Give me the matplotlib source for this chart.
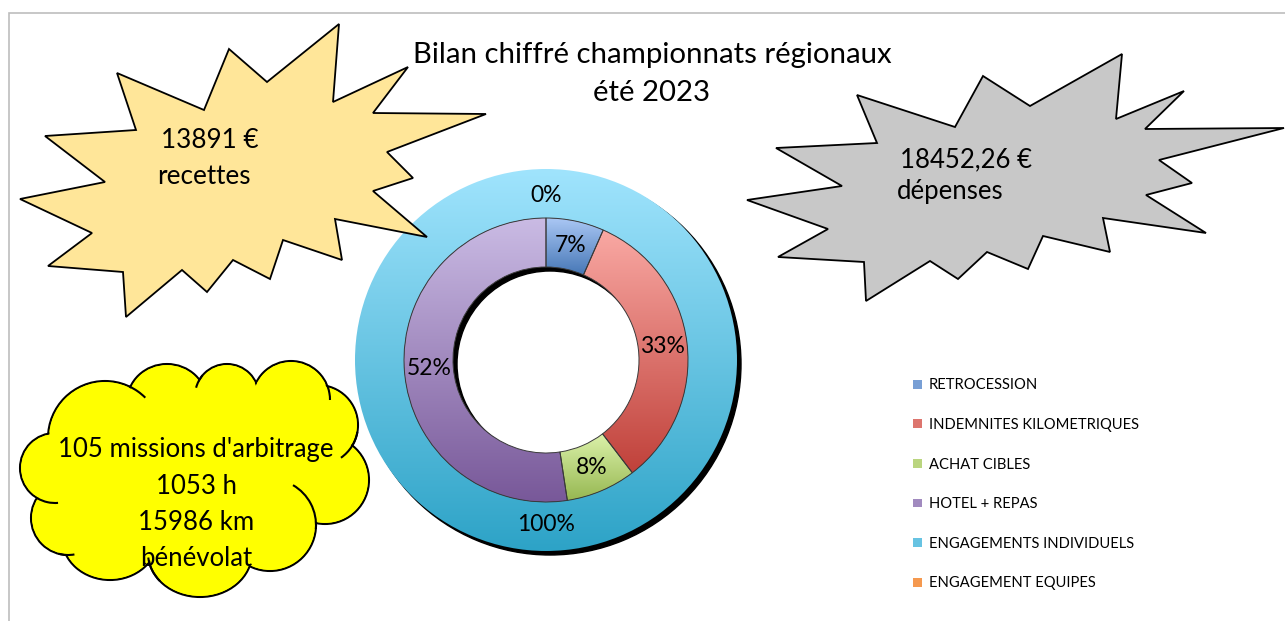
import matplotlib.pyplot as plt
import numpy as np
from matplotlib.patches import Polygon, Ellipse, Wedge, Rectangle, Arc, Patch
from matplotlib.colors import LinearSegmentedColormap, to_rgb

plt.rcParams['font.family'] = ['Lato', 'DejaVu Sans']

W, H = 1285, 621

# --- data -------------------------------------------------------------
depenses_labels = ["RETROCESSION", "INDEMNITES KILOMETRIQUES", "ACHAT CIBLES", "HOTEL + REPAS"]
depenses_values = [1218, 6089, 1476, 9669]
recettes_labels = ["ENGAGEMENTS INDIVIDUELS", "ENGAGEMENT EQUIPES"]
recettes_values = [13891, 0]

# (top, bottom) colours of each gradient
depenses_colors = [("#aac7f4", "#4677b6"), ("#f9a8a3", "#c0413a"),
                   ("#dcf2ab", "#97b852"), ("#cabbe4", "#785899")]
recettes_colors = [("#a0e4fd", "#2da3c7"), ("#fbb47e", "#ef7d20")]

title_lines = ["Bilan chiffré championnats régionaux", "été 2023"]
recettes_txt = ["13891 €", "recettes"]
depenses_txt = ["18452,26 €", "dépenses"]
cloud_txt = ["105 missions d'arbitrage", "1053 h", "15986 km", "bénévolat"]


def Y(y):
    # picture rows go down, axes go up
    return H - y


def mix(c1, c2):
    a, b = np.array(to_rgb(c1)), np.array(to_rgb(c2))
    return tuple((a + b) / 2)


def fill_gradient(ax, wedge, light, dark):
    bb = wedge.get_path().get_extents()
    if bb.width < 1e-6 or bb.height < 1e-6:
        return
    cmap = LinearSegmentedColormap.from_list("g", [dark, light])
    img = ax.imshow(np.linspace(0, 1, 256).reshape(-1, 1), cmap=cmap,
                    extent=[bb.x0, bb.x1, bb.y0, bb.y1], origin="lower",
                    aspect="auto", interpolation="bilinear",
                    zorder=wedge.get_zorder() - 0.05)
    img.set_clip_path(wedge)
    wedge.set_facecolor("none")


fig = plt.figure(figsize=(W / 100, H / 100), dpi=100)
ax = fig.add_axes([0, 0, 1, 1])

# chart border
ax.add_patch(Rectangle((8.5, Y(12.5) - 700), 1400, 700, fill=False,
                       edgecolor="#bdbdbd", linewidth=1.2, zorder=0))

# --- doughnut ----------------------------------------------------------
cx, cy = 546, Y(360)
r_out, r_in, ring = 191, 142, 49
sh = 4

ax.add_patch(Wedge((cx + sh, cy - sh), r_out, 0, 360, width=ring, color="black", zorder=1))
ax.add_patch(Wedge((cx + sh, cy - sh), r_in, 0, 360, width=ring, color="black", zorder=2))

out_w, out_t, out_p = ax.pie(recettes_values, radius=r_out, center=(cx, cy),
                             startangle=90, counterclock=False,
                             autopct="%1.0f%%", pctdistance=165 / r_out,
                             colors=[c[0] for c in recettes_colors],
                             wedgeprops=dict(width=ring, linewidth=0, zorder=3),
                             textprops=dict(fontsize=16.5, zorder=10))
in_w, in_t, in_p = ax.pie(depenses_values, radius=r_in, center=(cx, cy),
                          startangle=90, counterclock=False,
                          autopct="%1.0f%%", pctdistance=117 / r_in,
                          colors=[c[0] for c in depenses_colors],
                          wedgeprops=dict(width=ring, linewidth=0.7,
                                          edgecolor="#3a3a3a", zorder=4),
                          textprops=dict(fontsize=16.5, zorder=10))

for w, (light, dark) in zip(out_w, recettes_colors):
    fill_gradient(ax, w, light, dark)
for w, (light, dark) in zip(in_w, depenses_colors):
    fill_gradient(ax, w, light, dark)

# --- legend ------------------------------------------------------------
handles = [Patch(facecolor=mix(*c), edgecolor="none") for c in depenses_colors + recettes_colors]
leg = ax.legend(handles, depenses_labels + recettes_labels, loc="upper left",
                bbox_to_anchor=(906 / W, Y(371) / H), frameon=False,
                fontsize=10.6, handlelength=0.62, handleheight=0.55,
                handletextpad=0.45, labelspacing=1.74, borderpad=0)
leg.set_zorder(10)

# --- title -------------------------------------------------------------
ax.text(652, Y(55), title_lines[0], ha="center", va="center", fontsize=21.2, zorder=10)
ax.text(652, Y(93), title_lines[1], ha="center", va="center", fontsize=21.2, zorder=10)

# --- starbursts ----------------------------------------------------------
star_yellow = [(20, 199), (105, 182), (45, 136), (136, 130), (117, 73), (204, 110),
               (229, 49), (267, 82), (339, 24), (333, 102), (408, 67), (373, 113),
               (486, 114), (387, 152), (413, 178), (373, 191), (427, 237), (335, 219),
               (342, 260), (283, 240), (270, 279), (233, 260), (207, 292), (182, 270),
               (126, 317), (123, 272), (48, 266), (92, 233)]
star_grey = [(747, 200), (842, 186), (776, 148), (877, 143), (857, 95), (955, 127),
             (983, 76), (1030, 106), (1122, 54), (1116, 119), (1184, 91), (1145, 129),
             (1284, 128), (1159, 160), (1192, 183), (1146, 195), (1206, 233), (1103, 218),
             (1110, 252), (1043, 236), (1028, 269), (987, 252), (958, 279), (930, 261),
             (866, 301), (864, 262), (778, 257), (828, 229)]

ax.add_patch(Polygon([(x, Y(y)) for x, y in star_yellow], closed=True,
                     facecolor="#ffe699", edgecolor="black", linewidth=1.3, zorder=20))
ax.add_patch(Polygon([(x, Y(y)) for x, y in star_grey], closed=True,
                     facecolor="#c8c8c8", edgecolor="black", linewidth=1.3, zorder=20))

ax.text(210, Y(140), recettes_txt[0], ha="center", va="center", fontsize=18.8, zorder=21)
ax.text(204, Y(177), recettes_txt[1], ha="center", va="center", fontsize=18.8, zorder=21)
ax.text(966, Y(160), depenses_txt[0], ha="center", va="center", fontsize=18.5, zorder=21)
ax.text(950, Y(191), depenses_txt[1], ha="center", va="center", fontsize=18.5, zorder=21)

# --- cloud ---------------------------------------------------------------
# lobes: centre x, centre y, radius x, radius y (picture pixels)
lobes = [(105, 438, 57, 57), (167, 402, 40, 38), (227, 396, 32, 32), (291, 400, 39, 39),
         (318, 425, 40, 40), (325, 480, 44, 44), (270, 525, 46, 46), (200, 553, 52, 44),
         (110, 538, 48, 42), (68, 518, 37, 37), (55, 468, 35, 35)]
for x, y, rx, ry in lobes:
    ax.add_patch(Ellipse((x, Y(y)), 2 * rx, 2 * ry, facecolor="yellow",
                         edgecolor="black", linewidth=1.5, zorder=20))
for x, y, rx, ry in lobes:
    ax.add_patch(Ellipse((x, Y(y)), 2 * rx - 2.5, 2 * ry - 2.5, facecolor="yellow",
                         edgecolor="none", zorder=20.5))
ax.add_patch(Ellipse((195, Y(478)), 260, 160, facecolor="yellow", edgecolor="none", zorder=20.5))
# inner strokes of the cloud: lobe index, from angle, to angle
strokes = [(0, 45, 65), (2, 140, 165), (3, 0, 20), (4, -55, -10), (6, -5, 60),
           (7, 185, 215), (9, 255, 280), (10, 240, 275)]
for i, t1, t2 in strokes:
    x, y, rx, ry = lobes[i]
    ax.add_patch(Arc((x, Y(y)), 2 * rx, 2 * ry, theta1=t1, theta2=t2,
                     edgecolor="black", linewidth=1.5, zorder=20.6))

for txt, y in zip(cloud_txt, [450, 487, 523, 558]):
    ax.text(196, Y(y), txt, ha="center", va="center", fontsize=18.5, zorder=21)

ax.set_xlim(0, W)
ax.set_ylim(0, H)
ax.set_aspect("equal")
ax.axis("off")

fig.savefig("out.png", dpi=100, facecolor="white")
